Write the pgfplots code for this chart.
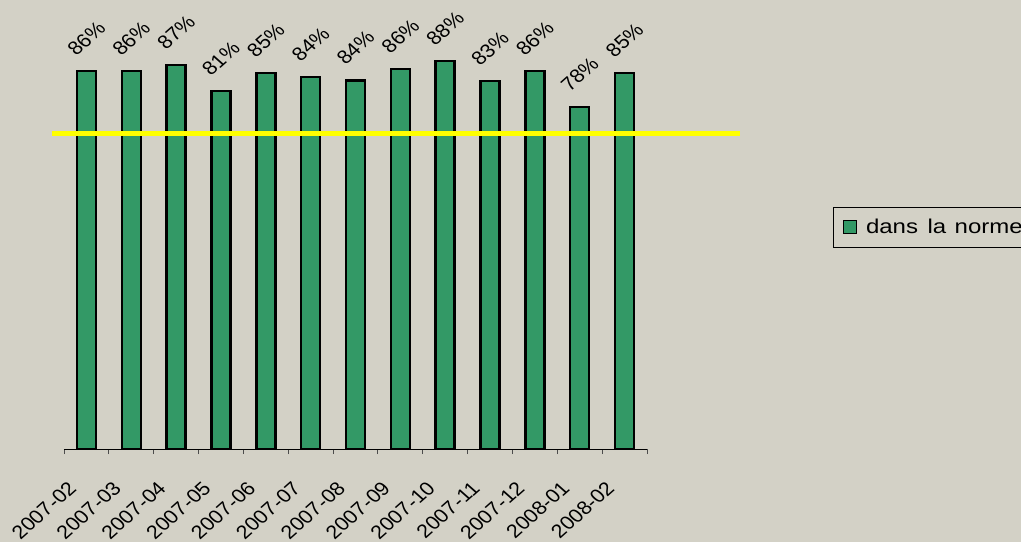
\documentclass[border=0pt]{standalone}
\usepackage{fontspec}
\setmainfont{Liberation Sans}
\usepackage{graphicx}
\usepackage{pgfplots}
\pgfplotsset{compat=1.18}
\definecolor{bg}{RGB}{211,209,198}
\definecolor{barg}{RGB}{51,153,102}
\definecolor{yel}{RGB}{255,255,0}
\newcommand{\lblfont}{\fontsize{19}{21}\selectfont}
\tikzset{strot/.style={xscale=1.13, rotate=45}}
\begin{document}
\begin{tikzpicture}
\fill[bg] (0pt,0pt) rectangle (1021pt,-542pt);
\begin{axis}[
  at={(64pt,-449pt)}, anchor=south west,
  scale only axis, width=583pt, height=441pt,
  xmin=-0.5, xmax=12.5, ymin=0, ymax=100,
  axis y line=none, axis x line*=bottom,
  x axis line style={black, line width=0.9pt, shorten >=0pt},
  xtick={0,...,12},
  xticklabels={2007\kern1.5pt-02,2007\kern1.5pt-03,2007\kern1.5pt-04,2007\kern1.5pt-05,2007\kern1.5pt-06,2007\kern1.5pt-07,2007\kern1.5pt-08,2007\kern1.5pt-09,2007\kern1.5pt-10,2007\kern1.5pt-11,2007\kern1.5pt-12,2008-01,2008-02},
  major tick length=0pt,
  minor xtick={-0.5,0.5,...,12.5},
  minor tick length=5pt,
  tick align=outside,
  minor tick style={black!70, line width=0.9pt},
  xticklabel style={font=\lblfont, xshift=-14pt, yshift=-36pt, strot, anchor=east, inner sep=0pt},
  clip=false,
  legend style={at={(1.319,0.5488)}, anchor=north west, draw=black, line width=0.8pt, fill=bg,
    font=\fontsize{20}{23}\selectfont, inner xsep=10pt, inner ysep=10pt},
  legend cell align=left,
  legend image code/.code={\draw[black, fill=barg, line width=0.9pt] (0pt,-6.5pt) rectangle (13pt,6.5pt); \path (19pt,0pt);},
  /pgf/number format/assume math mode=true,
]
\addplot[ybar, bar width=19pt, fill=barg, draw=black, line width=2.4pt,
  nodes near coords={\pgfmathprintnumber[fixed,precision=0]{\pgfplotspointmeta}\%},
  every node near coord/.append style={font=\lblfont, black, anchor=center, yshift=32.5pt, strot, inner sep=0pt}]
  coordinates {(0,85.7) (1,85.7) (2,87.1) (3,81.2) (4,85.3) (5,84.4) (6,83.6) (7,86.2) (8,88.0) (9,83.4) (10,85.7) (11,77.6) (12,85.3)};
\addlegendentry{\scalebox{1.2}[1]{dans\hspace{0.4em}la\hspace{0.35em}norme}}
\addplot[yel, line width=5.5pt, sharp plot, forget plot] coordinates {(-0.768,71.5) (14.57,71.5)};
\end{axis}
\pgfresetboundingbox
\useasboundingbox (0pt,0pt) rectangle (1021pt,-542pt);
\end{tikzpicture}
\end{document}
